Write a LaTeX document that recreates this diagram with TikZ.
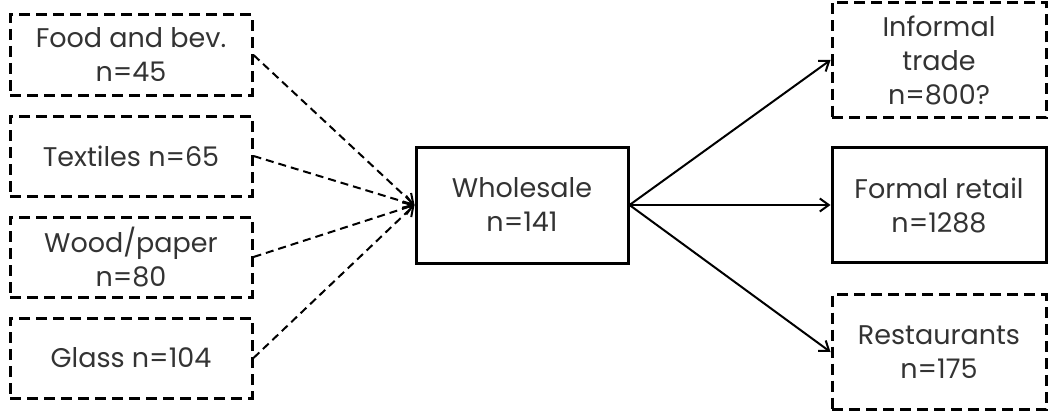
\documentclass[tikz,border=0pt]{standalone}
\usepackage{fontspec}
\setmainfont{Poppins}
\usepackage{xcolor}
\usetikzlibrary{arrows.meta,positioning}
\definecolor{txtgrey}{HTML}{333333}
\tikzset{
  >={Straight Barb[length=9pt,width=13pt,line width=2pt]},
  box/.style={draw, line width=3pt, align=center, text=txtgrey, font=\fontsize{27}{34}\selectfont},
  src/.style={box, dashed, dash pattern=on 11pt off 6pt, minimum width=242pt, minimum height=80pt},
  dest/.style={box, minimum width=214pt, minimum height=115pt},
  dashdest/.style={dest, dashed, dash pattern=on 11pt off 6pt},
  flow/.style={->, line width=2pt},
  dflow/.style={flow, dash pattern=on 8pt off 5pt},
}

\begin{document}
\begin{tikzpicture}[node distance=18pt and 10pt]
  \useasboundingbox (0pt,0pt) rectangle (1049pt,-412pt);

  \node[src] (food) at (131pt,-55pt) {Food and bev.\\n=45};
  \node[src, below=of food] (textile) {Textiles n=65};
  \node[src, below=of textile] (wood) {Wood/paper\\n=80};
  \node[src, below=of wood] (glass) {Glass n=104};

  \node[box, minimum width=212pt, minimum height=116pt] (whole) at (522pt,-205pt) {Wholesale\\n=141};

  \node[dest] (formal) at (939pt,-205pt) {Formal retail\\n=1288};
  \node[dashdest, above=27pt of formal] (informal) {Informal\\trade\\n=800?};
  \node[dashdest, below=29pt of formal] (rest) {Restaurants\\n=175};

  \draw[dflow] (food.east) -- (whole.west);
  \draw[dflow] (textile.east) -- (whole.west);
  \draw[dflow] (wood.east) -- (whole.west);
  \draw[dflow] (glass.east) -- (whole.west);

  \draw[flow] (whole.east) -- (informal.west);
  \draw[flow] (whole.east) -- (formal.west);
  \draw[flow] (whole.east) -- (rest.west);
\end{tikzpicture}
\end{document}
